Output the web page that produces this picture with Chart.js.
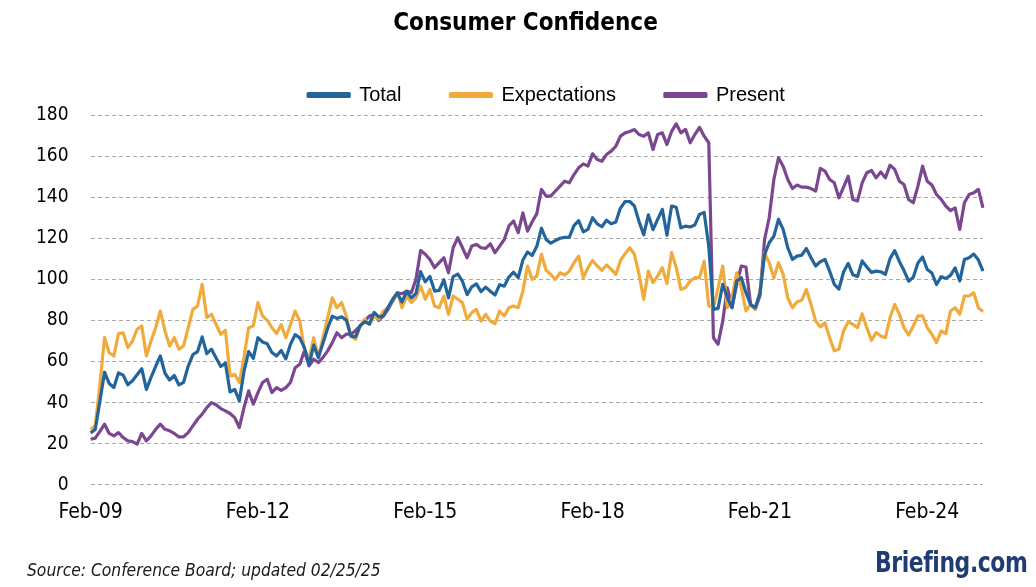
<!DOCTYPE html>
<html>
<head>
<meta charset="utf-8">
<script src="https://cdn.jsdelivr.net/npm/chart.js@4.4.1/dist/chart.umd.min.js"></script>
<style>
  body { margin: 0; background: #fff; }
  #wrap { position: relative; width: 1036px; height: 587px; }
  #source {
    position: absolute; left: 27px; top: 560px;
    font: italic 17.3px "DejaVu Sans Condensed", "DejaVu Sans", sans-serif; color: #1a1a1a;
  }
  #logo {
    position: absolute; right: 9px; top: 545px;
    font: bold 29px "DejaVu Sans Condensed", "DejaVu Sans", sans-serif; color: #1f3d72;
    transform: scaleX(0.84); transform-origin: right center; letter-spacing: -0.5px;
  }
</style>
</head>
<body>
<div id="wrap">
  <canvas id="chart" width="1036" height="587"></canvas>
  <div id="source">Source: Conference Board; updated 02/25/25</div>
  <div id="logo">Briefing.com</div>
</div>
<script>
// monthly, Feb-09 .. Feb-25
const monthNames = ["Jan", "Feb", "Mar", "Apr", "May", "Jun", "Jul", "Aug", "Sep", "Oct", "Nov", "Dec"];
const yTicks = [0, 20, 40, 60, 80, 100, 120, 140, 160, 180];

const total = [
  25.3, 26.9, 40.8, 54.8, 49.3, 47.4, 54.5, 53.4, 48.7, 50.6, 53.6,
  56.5, 46.4, 52.3, 57.7, 62.7, 54.3, 51.0, 53.2, 48.6, 49.9, 57.8, 63.4,
  64.8, 72.0, 63.8, 66.0, 61.7, 57.6, 59.2, 45.2, 46.4, 40.9, 55.2, 64.8,
  61.5, 71.6, 69.5, 68.7, 64.4, 62.7, 65.4, 61.3, 68.4, 73.1, 71.5, 66.7,
  58.4, 68.0, 61.9, 69.0, 76.2, 82.1, 81.0, 81.8, 80.2, 72.4, 72.0, 77.5,
  79.4, 78.3, 83.9, 81.7, 82.2, 86.4, 90.3, 93.4, 89.0, 94.1, 91.0, 93.1,
  103.8, 98.8, 101.4, 94.3, 94.6, 99.8, 91.0, 101.3, 102.6, 99.1, 92.6, 96.3,
  97.8, 94.0, 96.2, 94.2, 92.4, 97.4, 96.7, 101.1, 103.5, 100.8, 109.4, 113.3,
  111.6, 116.1, 124.9, 119.4, 117.6, 118.9, 120.0, 120.4, 120.6, 126.2, 128.6, 123.1,
  124.3, 130.0, 127.0, 125.6, 128.8, 127.1, 127.9, 134.7, 137.9, 137.9, 135.7, 128.1,
  121.7, 131.4, 124.2, 129.2, 134.1, 121.5, 135.7, 135.1, 125.1, 125.9, 125.5, 126.5,
  131.6, 132.6, 116.0, 85.4, 85.9, 97.6, 91.0, 86.2, 99.2, 100.8, 93.5, 87.8,
  86.2, 93.0, 112.0, 117.8, 121.0, 129.2, 124.3, 115.4, 109.7, 111.3, 111.8, 115.0,
  110.5, 106.5, 108.6, 109.7, 104.0, 97.6, 95.3, 103.6, 107.8, 102.2, 101.4, 109.0,
  106.0, 103.4, 104.0, 103.7, 102.5, 110.1, 114.0, 108.7, 104.3, 99.1, 101.0, 108.0,
  110.9, 104.8, 103.1, 97.5, 101.3, 100.4, 101.9, 105.6, 99.2, 109.7, 110.5, 112.3,
  109.5, 104.0
];

const expectations = [
  27.0, 28.7, 49.0, 71.6, 64.3, 62.7, 73.6, 74.0, 66.8, 70.0, 75.7,
  77.3, 62.7, 70.0, 76.5, 84.6, 74.9, 67.6, 71.6, 66.0, 67.6, 76.5, 85.4,
  87.0, 97.6, 81.4, 83.0, 78.0, 73.3, 75.2, 53.0, 53.8, 49.8, 62.0, 76.5,
  77.3, 88.7, 82.2, 80.0, 76.5, 73.6, 78.0, 71.6, 78.0, 84.6, 79.7, 66.0,
  61.1, 71.6, 62.0, 71.6, 81.4, 91.0, 86.2, 88.7, 82.2, 72.4, 70.8, 77.3,
  80.6, 78.0, 82.2, 80.6, 84.6, 86.2, 90.3, 93.5, 86.2, 91.9, 88.7, 91.0,
  96.8, 90.3, 95.1, 87.0, 86.2, 91.9, 83.0, 91.9, 90.3, 88.7, 80.6, 83.8,
  85.4, 79.7, 83.0, 79.7, 78.4, 84.6, 82.2, 86.2, 87.0, 86.2, 94.3, 106.5,
  100.0, 101.6, 112.2, 104.4, 102.4, 100.0, 103.2, 102.1, 104.0, 108.1, 111.3, 100.8,
  105.7, 109.2, 106.5, 104.4, 107.0, 105.0, 102.4, 109.2, 112.5, 115.4, 112.2, 102.4,
  90.3, 104.0, 98.4, 101.6, 105.7, 97.9, 113.0, 105.7, 95.1, 96.0, 99.2, 100.8,
  100.8, 108.9, 87.0, 86.2, 95.9, 106.5, 86.2, 91.0, 103.2, 95.9, 84.6, 87.8,
  85.4, 94.0, 113.0, 108.1, 100.8, 108.1, 102.4, 91.0, 86.2, 89.1, 89.8, 95.1,
  87.8, 79.7, 76.8, 78.9, 71.6, 65.2, 66.0, 74.9, 79.4, 78.1, 76.5, 83.3,
  76.5, 70.3, 74.1, 72.4, 71.6, 81.4, 87.8, 83.0, 76.5, 72.9, 77.3, 82.2,
  82.2, 76.5, 73.3, 69.2, 74.9, 73.6, 84.6, 86.2, 83.0, 91.9, 91.9, 93.5,
  86.2, 84.3
];

const present = [
  22.2, 22.7, 26.0, 29.5, 25.0, 23.8, 25.4, 23.0, 21.4, 21.0, 19.8,
  25.0, 21.4, 23.8, 27.0, 29.5, 27.0, 26.3, 25.0, 23.3, 23.3, 25.4, 28.7,
  31.9, 34.4, 37.6, 40.0, 39.0, 37.1, 36.0, 34.7, 32.7, 27.9, 37.6, 45.7,
  39.2, 44.9, 49.8, 51.4, 44.9, 47.3, 46.0, 47.3, 49.8, 57.0, 58.7, 65.2,
  57.9, 61.1, 59.5, 62.0, 65.2, 69.2, 74.0, 71.6, 73.3, 73.3, 75.0, 77.3,
  79.7, 82.2, 83.0, 80.0, 82.2, 85.4, 89.5, 93.5, 93.0, 94.3, 93.5, 100.0,
  114.0, 112.2, 109.7, 105.7, 108.1, 110.5, 103.2, 115.4, 120.3, 115.4, 110.5, 116.2,
  117.0, 115.4, 115.1, 117.3, 113.0, 116.2, 119.4, 126.0, 128.4, 122.7, 132.4, 123.5,
  128.0, 132.0, 143.8, 140.5, 140.5, 143.0, 145.4, 147.8, 147.0, 151.0, 154.3, 156.2,
  155.1, 161.1, 158.3, 157.5, 160.8, 162.4, 164.8, 169.7, 171.3, 172.0, 172.9, 170.5,
  169.7, 171.3, 163.2, 170.5, 171.3, 165.6, 172.0, 175.7, 171.3, 173.0, 166.5, 170.5,
  174.0, 169.7, 166.5, 71.6, 68.4, 79.7, 95.9, 86.2, 97.6, 106.5, 106.0, 87.8,
  85.4, 92.0, 119.4, 130.0, 148.6, 159.2, 155.1, 148.6, 144.2, 145.9, 144.9, 144.9,
  144.2, 143.0, 154.0, 152.7, 148.6, 147.0, 139.7, 144.9, 150.2, 138.9, 138.1, 147.0,
  151.9, 153.0, 149.4, 152.3, 149.4, 155.6, 153.5, 147.8, 146.2, 138.9, 137.3, 145.4,
  155.1, 147.8, 145.9, 141.3, 138.9, 135.7, 133.5, 134.8, 124.3, 137.3, 141.3, 142.1,
  143.8, 134.8
];

// month labels, starting at Feb-09
const labels = [];
for (let i = 0; i < total.length; i++) {
  const m = (1 + i) % 12;
  const yr = 9 + Math.floor((1 + i) / 12);
  labels.push(monthNames[m] + "-" + String(yr).padStart(2, "0"));
}

const fontFamily = "'DejaVu Sans Condensed', 'DejaVu Sans', sans-serif";

// title and legend in the original sit right of the plot's centre
const headerNudge = {
  id: "headerNudge",
  afterLayout(chart) {
    chart.titleBlock.left += 27;
    chart.titleBlock.right += 27;
    chart.legend.left += 48;
    chart.legend.right += 48;
  },
};

new Chart(document.getElementById("chart"), {
  type: "line",
  data: {
    labels: labels,
    datasets: [
      { label: "Total", data: total, borderColor: "#23649b", backgroundColor: "#23649b" },
      { label: "Expectations", data: expectations, borderColor: "#f0ab3c", backgroundColor: "#f0ab3c" },
      { label: "Present", data: present, borderColor: "#7a4790", backgroundColor: "#7a4790" },
    ],
  },
  plugins: [headerNudge],
  options: {
    responsive: false,
    animation: false,
    layout: { padding: { left: 14, right: 53, top: 0, bottom: 47 } },
    elements: {
      line: { borderWidth: 3.2, tension: 0, borderJoinStyle: "round" },
      point: { radius: 0 },
    },
    plugins: {
      title: {
        display: true,
        text: "Consumer Confidence",
        color: "#000",
        font: { family: fontFamily, size: 24, weight: "bold", lineHeight: 1 },
        padding: { top: 12, bottom: 0 },
      },
      legend: {
        display: true,
        position: "top",
        labels: {
          color: "#000",
          font: { family: "'Liberation Sans', Arial, sans-serif", size: 20 },
          boxWidth: 41,
          boxHeight: 3,
          padding: 49,
        },
      },
      tooltip: { enabled: false },
    },
    scales: {
      x: {
        type: "category",
        offset: false,
        grid: { display: false, drawTicks: false },
        border: { display: false },
        ticks: {
          color: "#000",
          font: { family: fontFamily, size: 21 },
          padding: 15,
          autoSkip: false,
          maxRotation: 0,
          callback: function (val, idx) {
            return idx % 36 === 0 ? this.getLabelForValue(val) : "";
          },
        },
      },
      y: {
        min: 0,
        max: 180,
        afterBuildTicks: (axis) => { axis.ticks = yTicks.map((v) => ({ value: v })); },
        grid: { color: "#a9a9a9", lineWidth: 1, drawTicks: false },
        border: { display: false, dash: [4, 3] },
        ticks: { color: "#000", font: { family: fontFamily, size: 19 }, padding: 22 },
      },
    },
  },
});
</script>
</body>
</html>
